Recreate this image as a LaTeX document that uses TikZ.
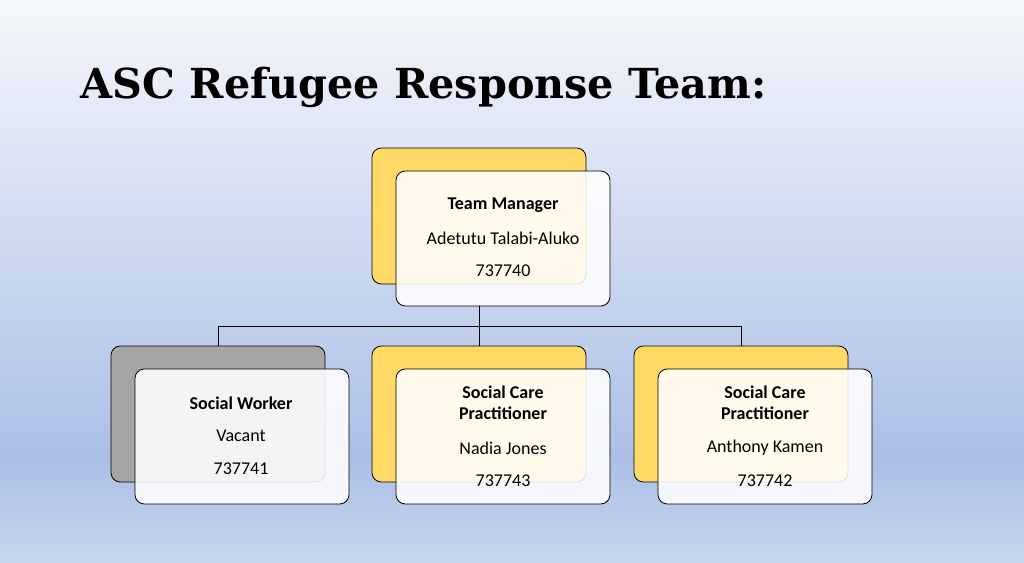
\documentclass[tikz,border=0pt]{standalone}
\usepackage{fontspec}
\setmainfont{Carlito}
\newfontfamily\titlefont{DejaVu Serif}
\definecolor{bgtop}{HTML}{F5F7FB}
\definecolor{bgmid}{HTML}{ABBFE6}
\definecolor{bgbot}{HTML}{C8D5EF}
\definecolor{ylw}{HTML}{FFD966}
\definecolor{gry}{HTML}{A6A6A6}
\tikzset{
  x=0.75pt,y=-0.75pt,
  backbox/.style={draw=black,line width=0.6pt,rounded corners=7pt},
  frontbox/.style={draw=black,line width=0.6pt,rounded corners=7pt,fill=white,fill opacity=0.88},
  txt/.style={font=\fontsize{13.5pt}{16pt}\selectfont,text=black},
  btxt/.style={font=\fontsize{13.5pt}{16pt}\selectfont\bfseries,text=black,align=center},
  conn/.style={draw=black,line width=0.6pt}
}
\begin{document}
\begin{tikzpicture}
\useasboundingbox (0,0) rectangle (1024,562);
\shade[top color=bgtop,bottom color=bgmid] (0,0) rectangle (1024,460);
\shade[top color=bgmid,bottom color=bgbot] (0,460) rectangle (1024,562);
\node[anchor=base west,font=\titlefont\bfseries\fontsize{31pt}{36pt}\selectfont] (title) at (76,98) {ASC Refugee Response Team:};
% manager
\draw[backbox,fill=ylw] (372,148) rectangle (586,284);
\coordinate (mtop) at (479,306);
\draw[frontbox] (396,171) rectangle (610,306);
\node[btxt] (m1) at (503,205) {Team Manager};
\node[txt] (m2) at (503,238) {Adetutu Talabi-Aluko};
\node[txt] (m3) at (503,271) {737740};
% subordinates back boxes
\draw[backbox,fill=gry] (111,346) rectangle (325,482);
\draw[backbox,fill=ylw] (372,346) rectangle (586,482);
\draw[backbox,fill=ylw] (634,346) rectangle (848,482);
\coordinate (a) at (218,346); \coordinate (b) at (479,346); \coordinate (c) at (741,346);
\coordinate (j) at (479,326); \coordinate (ja) at (218,326); \coordinate (jc) at (741,326);
\draw[conn] (mtop) -- (j);
\draw[conn] (ja) -- (jc);
\draw[conn] (ja) -- (a);
\draw[conn] (j) -- (b);
\draw[conn] (jc) -- (c);
\draw[frontbox] (135,369) rectangle (349,504);
\draw[frontbox] (396,369) rectangle (610,504);
\draw[frontbox] (658,369) rectangle (872,504);
\node[btxt] (s1) at (241,403) {Social Worker};
\node[txt] (s2) at (241,436) {Vacant};
\node[txt] (s3) at (241,469) {737741};
\node[btxt] (p1) at (503,403) {Social Care\\Practitioner};
\node[txt] (p2) at (503,448) {Nadia Jones};
\node[txt] (p3) at (503,481) {737743};
\node[btxt] (q1) at (765,403) {Social Care\\Practitioner};
\node[txt] (q2) at (765,448) {Anthony Kamen};
\node[txt] (q3) at (765,481) {737742};
\end{tikzpicture}
\end{document}
